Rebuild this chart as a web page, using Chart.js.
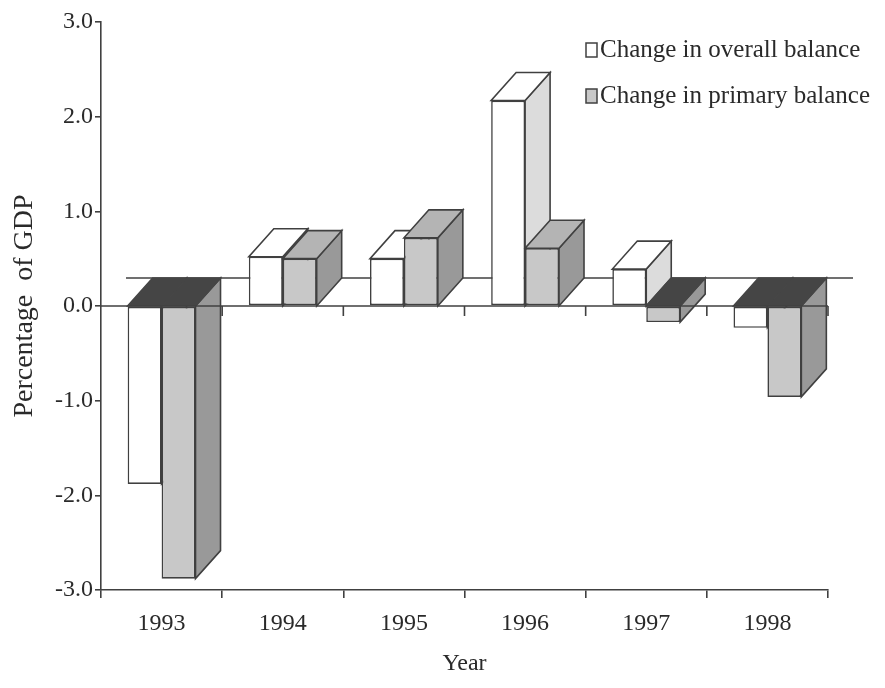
<!DOCTYPE html>
<html>
<head>
  <meta charset="utf-8">
  <title>Change in balance</title>
  <script src="https://cdn.jsdelivr.net/npm/chart.js"></script>
  <style>
    html, body {
      margin: 0;
      padding: 0;
      background: #ffffff;
    }

    .wrap {
      width: 885px;
      height: 688px;
    }
  </style>
</head>
<body>

<div class="wrap">
  <canvas id="balanceChart"></canvas>
</div>

<script>
  const years = ['1993', '1994', '1995', '1996', '1997', '1998'];
  const overallBalance = [-1.88, 0.52, 0.50, 2.17, 0.39, -0.23];
  const primaryBalance = [-2.88, 0.50, 0.72, 0.61, -0.17, -0.96];
  const yTicks = [-3, -2, -1, 0, 1, 2, 3];

  const FONT = "'Liberation Serif', 'Times New Roman', serif";
  const TEXT = '#2a2a2a';
  const EDGE = '#404040';
  const DX = 25, DY = -28;

  const frontColors = ['#ffffff', '#c8c8c8'];
  const topColors = ['#ffffff', '#b4b4b4'];
  const sideColors = ['#dcdcdc', '#999999'];
  const capColor = '#454545';

  function poly(ctx, pts, fill, stroke) {
    ctx.beginPath();
    ctx.moveTo(pts[0][0], pts[0][1]);
    for (let i = 1; i < pts.length; i++) ctx.lineTo(pts[i][0], pts[i][1]);
    ctx.closePath();
    ctx.fillStyle = fill;
    ctx.fill();
    ctx.strokeStyle = stroke || EDGE;
    ctx.stroke();
  }

  // side and top faces of the bars, plus the back edge of the floor
  const depthPlugin = {
    id: 'depth',
    beforeDatasetsDraw(chart) {
      const ctx = chart.ctx;
      const area = chart.chartArea;
      const y0 = chart.scales.y.getPixelForValue(0);
      ctx.save();
      ctx.strokeStyle = EDGE;
      ctx.lineWidth = 1.6;

      ctx.beginPath();
      ctx.moveTo(area.left + DX, y0 + DY);
      ctx.lineTo(area.right + DX, y0 + DY);
      ctx.stroke();

      for (let i = 0; i < years.length; i++) {
        chart.data.datasets.forEach((ds, d) => {
          const bar = chart.getDatasetMeta(d).data[i];
          const p = bar.getProps(['x', 'y', 'width'], true);
          const l = p.x - p.width / 2, r = p.x + p.width / 2;
          if (ds.data[i] >= 0) {
            const top = p.y;
            poly(ctx, [[r, y0], [r + DX, y0 + DY], [r + DX, top + DY], [r, top]], sideColors[d]);
            poly(ctx, [[l, top], [r, top], [r + DX, top + DY], [l + DX, top + DY]], topColors[d]);
          } else {
            const bottom = p.y;
            poly(ctx, [[r, y0], [r + DX, y0 + DY], [r + DX, bottom + DY], [r, bottom]], sideColors[d]);
            poly(ctx, [[l, y0], [r, y0], [r + DX, y0 + DY], [l + DX, y0 + DY]], capColor, capColor);
          }
        });
      }
      ctx.restore();
    },
    afterDatasetsDraw(chart) {
      // front edge of the floor at zero, with its tick marks
      const ctx = chart.ctx;
      const area = chart.chartArea;
      const y0 = chart.scales.y.getPixelForValue(0);
      const step = (area.right - area.left) / years.length;
      ctx.save();
      ctx.strokeStyle = EDGE;
      ctx.lineWidth = 1.6;
      ctx.beginPath();
      ctx.moveTo(area.left, y0);
      ctx.lineTo(area.right, y0);
      for (let i = 1; i <= years.length; i++) {
        const bx = area.left + step * i;
        ctx.moveTo(bx, y0);
        ctx.lineTo(bx, y0 + 10);
      }
      ctx.stroke();
      ctx.restore();
    },
    afterDraw(chart) {
      // legend
      const ctx = chart.ctx;
      ctx.save();
      ctx.font = '25px ' + FONT;
      ctx.textBaseline = 'middle';
      ctx.strokeStyle = EDGE;
      ctx.lineWidth = 1.5;
      const rows = [50, 96];
      chart.data.datasets.forEach((ds, d) => {
        const cy = rows[d];
        ctx.fillStyle = frontColors[d];
        ctx.fillRect(586, cy - 7, 11, 14);
        ctx.strokeRect(586, cy - 7, 11, 14);
        ctx.fillStyle = TEXT;
        ctx.fillText(ds.label, 600, cy);
      });
      ctx.restore();
    }
  };

  new Chart(document.getElementById('balanceChart'), {
    type: 'bar',
    data: {
      labels: years,
      datasets: [
        {
          label: 'Change in overall balance',
          data: overallBalance,
          backgroundColor: frontColors[0],
          borderColor: EDGE,
          borderWidth: 1.6,
          borderSkipped: false
        },
        {
          label: 'Change in primary balance',
          data: primaryBalance,
          backgroundColor: frontColors[1],
          borderColor: EDGE,
          borderWidth: 1.6,
          borderSkipped: false
        }
      ]
    },
    options: {
      responsive: true,
      maintainAspectRatio: false,
      animation: false,
      categoryPercentage: 0.56,
      barPercentage: 1.0,
      layout: { padding: { top: 22, right: 57, left: 0, bottom: 0 } },
      plugins: {
        legend: { display: false },
        tooltip: { enabled: false }
      },
      scales: {
        x: {
          grid: { drawOnChartArea: false, tickLength: 8, color: EDGE, lineWidth: 1.6, offset: true },
          border: { color: EDGE, width: 1.6 },
          ticks: { color: TEXT, font: { family: FONT, size: 24 }, padding: 11 },
          title: {
            display: true,
            text: 'Year',
            color: TEXT,
            font: { family: FONT, size: 24 },
            padding: { top: 0, bottom: 10 }
          },
          afterFit(scale) { scale.height = 98; }
        },
        y: {
          min: -3,
          max: 3,
          afterBuildTicks(scale) { scale.ticks = yTicks.map(v => ({ value: v })); },
          grid: { drawOnChartArea: false, tickLength: 6, color: EDGE, lineWidth: 1.6 },
          border: { color: EDGE, width: 1.6 },
          ticks: {
            color: TEXT,
            font: { family: FONT, size: 24 },
            padding: 2,
            callback: v => v.toFixed(1)
          },
          title: {
            display: true,
            text: 'Percentage  of GDP',
            color: TEXT,
            font: { family: FONT, size: 28 },
            padding: { top: 8, bottom: 0 }
          },
          afterFit(scale) { scale.width = 101; }
        }
      }
    },
    plugins: [depthPlugin]
  });
</script>

</body>
</html>
